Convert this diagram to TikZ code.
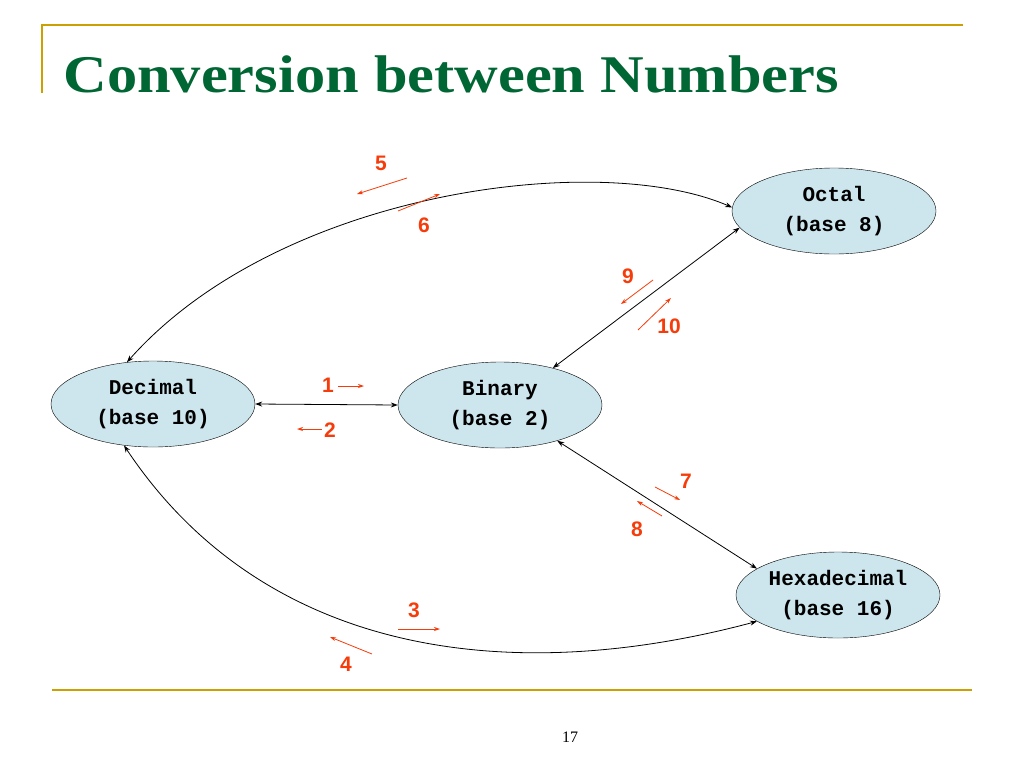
\documentclass[tikz,border=0pt]{standalone}
\usepackage{fontspec}
\setmainfont{Liberation Serif}
\newfontfamily\labelfont{Liberation Sans}
\newfontfamily\codefont{Liberation Mono}
\newfontfamily\titlefont[FakeStretch=1.14]{Liberation Serif}
\usetikzlibrary{arrows.meta,shapes.geometric}
\definecolor{rulegold}{RGB}{204,160,0}
\definecolor{titlegreen}{RGB}{0,102,51}
\definecolor{basefill}{RGB}{205,230,238}
\definecolor{hintred}{RGB}{245,60,10}
\tikzset{
  base/.style={ellipse, draw, fill=basefill, minimum width=204pt, minimum height=86pt,
    align=center, font=\codefont\bfseries\fontsize{21}{30}\selectfont, inner sep=0pt},
  link/.style={{Stealth[length=7pt,width=5pt]}-{Stealth[length=7pt,width=5pt]}, line width=0.8pt},
  hint/.style={-{Stealth[length=6pt,width=4pt]}, hintred, line width=0.8pt},
  num/.style={text=hintred, font=\labelfont\bfseries\fontsize{21}{21}\selectfont}
}
\begin{document}
\begin{tikzpicture}[x=1pt, y=-1pt]
  \useasboundingbox (0,0) rectangle (1024,768);
  % frame
  \draw[rulegold, line width=1.5pt] (42,93) -- (42,25) -- (963,25);
  \draw[rulegold, line width=1.5pt] (52,690) -- (972,690);
  \node[anchor=base west, text=titlegreen, font=\titlefont\bfseries\fontsize{53}{53}\selectfont] (title) at (60,92) {Conversion between Numbers};
  \node[font=\fontsize{16}{16}\selectfont] (page) at (570,737) {17};

  % number bases
  \node[base] (dec) at (153,404) {Decimal\\(base 10)};
  \node[base] (bin) at (500,405) {Binary\\(base 2)};
  \node[base] (oct) at (834,211) {Octal\\(base 8)};
  \node[base] (hex) at (838,595) {Hexadecimal\\(base 16)};

  % conversions
  \draw[link] (dec.east) -- (bin.west);
  \draw[link] (bin.35) -- (oct.190);
  \draw[link] (bin.-32) -- (hex.162);
  \draw[link] (dec.122) .. controls (280,190) and (600,150) .. (oct.178);
  \draw[link] (dec.235) .. controls (260,650) and (500,690) .. (hex.198);

  % numbered directions
  \draw[hint] (338,386) -- (364,386);  \node[num] (n1) at (328,385) {1};
  \draw[hint] (322,429) -- (297,429);  \node[num] (n2) at (330,430) {2};
  \draw[hint] (398,629) -- (440,629);  \node[num] (n3) at (414,610) {3};
  \draw[hint] (372,654) -- (330,637);  \node[num] (n4) at (346,664) {4};
  \draw[hint] (407,178) -- (357,194);  \node[num] (n5) at (381,163) {5};
  \draw[hint] (398,211) -- (440,194);  \node[num] (n6) at (424,225) {6};
  \draw[hint] (655,487) -- (680,500);  \node[num] (n7) at (686,481) {7};
  \draw[hint] (662,516) -- (637,501);  \node[num] (n8) at (637,529) {8};
  \draw[hint] (653,280) -- (621,304);  \node[num] (n9) at (628,276) {9};
  \draw[hint] (638,330) -- (671,298);  \node[num] (n10) at (669,326) {10};
\end{tikzpicture}
\end{document}
